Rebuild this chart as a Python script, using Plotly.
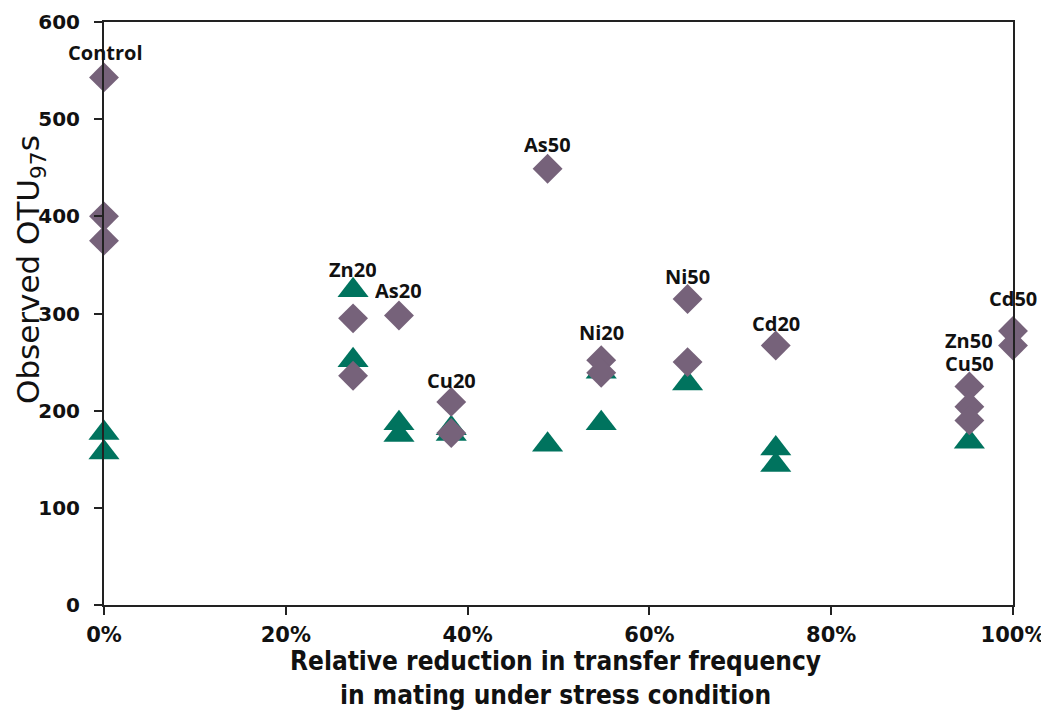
import plotly.graph_objects as go

# Diamonds (purple series)
x_diamond = [0.0, 0.0, 0.0, 0.274, 0.274, 0.3245, 0.382, 0.382, 0.488, 0.547, 0.547,
             0.642, 0.642, 0.739, 0.952, 0.952, 0.952, 1.0, 1.0]
y_diamond = [543, 400, 375, 295, 236, 298, 209, 177, 449, 252, 239,
             315, 250, 267, 225, 204, 190, 282, 267]

# Triangles (green series)
x_triangle = [0.0, 0.0, 0.274, 0.274, 0.3245, 0.3245, 0.382, 0.382, 0.488, 0.547, 0.547,
              0.642, 0.739, 0.739, 0.952]
y_triangle = [177, 157, 324, 252, 187, 175, 182, 176, 165, 240, 187,
              228, 161, 144, 168]

# Treatment labels
label_text = ["Control", "As50", "Zn20", "As20", "Cu20", "Ni20", "Ni50", "Cd20", "Zn50", "Cu50", "Cd50"]
label_x = [0.002, 0.488, 0.274, 0.3245, 0.382, 0.547, 0.642, 0.739, 0.952, 0.952, 1.0]
label_y = [569, 474, 345, 324, 231, 280, 338, 290, 272, 249, 315]

x_ticks = [0, 0.2, 0.4, 0.6, 0.8, 1.0]
x_ticktext = ["0%", "20%", "40%", "60%", "80%", "100%"]
y_ticks = [0, 100, 200, 300, 400, 500, 600]

GREEN = "#00735e"
PURPLE = "#76627a"
NARROW = "Liberation Sans Narrow, DejaVu Sans Condensed, Liberation Sans"

# page body has an 8px margin; compensate so the plot area lands at screen x 104-1013, y 22-605
OFF = 8
W, H = 1049 - OFF, 710 - OFF
L, T = 104 - OFF, 22 - OFF
PW, PH = 909, 583
R, B = W - L - PW, H - T - PH

fig = go.Figure()
fig.add_trace(go.Scatter(
    x=x_triangle, y=y_triangle, mode="markers", cliponaxis=False,
    marker=dict(symbol="triangle-up", size=27, color=GREEN, line=dict(width=0)),
    showlegend=False, hoverinfo="skip"))
fig.add_trace(go.Scatter(
    x=x_diamond, y=y_diamond, mode="markers", cliponaxis=False,
    marker=dict(symbol="diamond", size=23, color=PURPLE, line=dict(width=0)),
    showlegend=False, hoverinfo="skip"))

for t, lx, ly in zip(label_text, label_x, label_y):
    fig.add_annotation(x=lx, y=ly, text=t, showarrow=False, xref="x", yref="y",
                       font=dict(family="Open Sans", size=20, color="#111111", weight="bold"),
                       xanchor="center", yanchor="middle", height=19)

# Axis titles as annotations (screen positions converted to paper coordinates)
fig.add_annotation(x=(30 - 104) / PW, y=(605 - 270) / PH, xref="paper", yref="paper",
                   text="Observed OTU<sub>97</sub>s", showarrow=False, textangle=-90,
                   font=dict(family="DejaVu Sans", size=31, color="#111111"),
                   xanchor="center", yanchor="middle")
fig.add_annotation(x=(555 - 104) / PW, y=(605 - 678) / PH, xref="paper", yref="paper",
                   text="<b>Relative reduction in transfer frequency<br>in mating under stress condition</b>",
                   showarrow=False,
                   font=dict(family=NARROW, size=26, color="#111111"),
                   xanchor="center", yanchor="middle")

fig.update_layout(
    width=W, height=H,
    margin=dict(l=L, r=R, t=T, b=B, autoexpand=False),
    paper_bgcolor="white", plot_bgcolor="white",
    showlegend=False,
    xaxis=dict(range=[0, 1], tickvals=x_ticks, ticktext=x_ticktext, automargin=False,
               showgrid=False, zeroline=False, showline=True, linecolor="#222222", linewidth=2,
               mirror=True, ticks="outside", ticklen=8, tickwidth=2, tickcolor="#222222",
               ticklabelstandoff=2,
               tickfont=dict(family="DejaVu Sans", size=21, color="#111111", weight="bold")),
    yaxis=dict(range=[0, 600], tickvals=y_ticks, automargin=False,
               showgrid=False, zeroline=False, showline=True, linecolor="#222222", linewidth=2,
               mirror=True, ticks="outside", ticklen=8, tickwidth=2, tickcolor="#222222",
               ticklabelstandoff=10,
               tickfont=dict(family="DejaVu Sans", size=20, color="#111111", weight="bold")),
)

fig.write_html("out.html")
